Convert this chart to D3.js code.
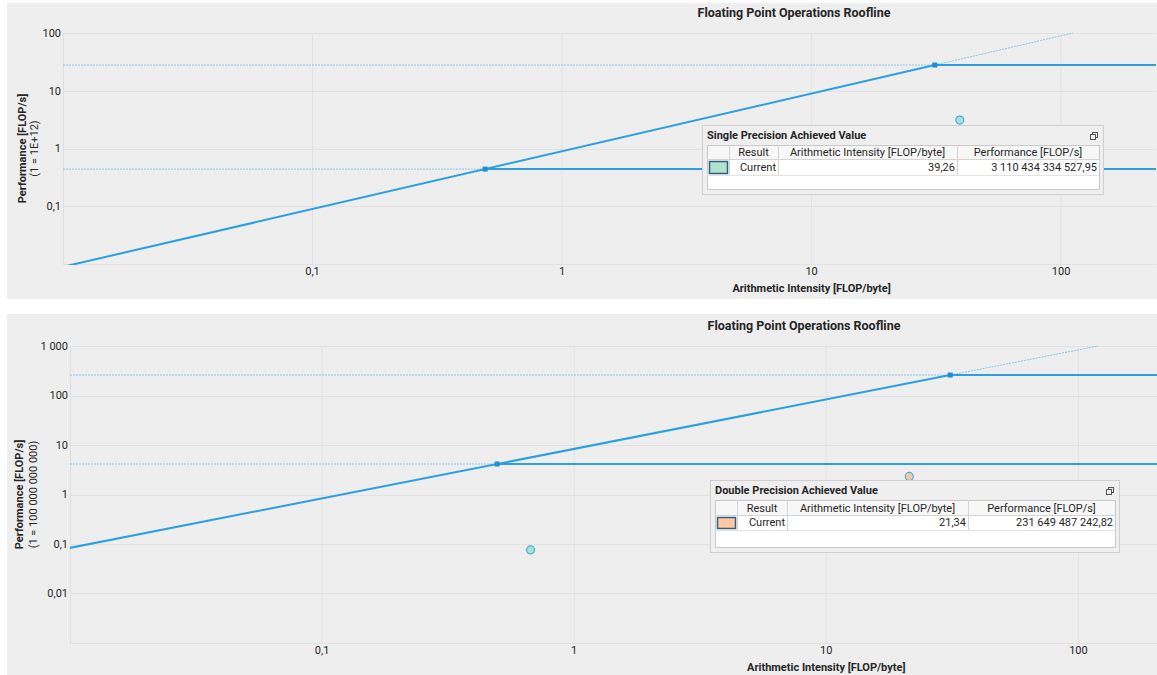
<!DOCTYPE html>
<html>
<head>
<meta charset="utf-8">
<script src="https://cdn.jsdelivr.net/npm/d3@7"></script>
<style>
  html, body { margin: 0; padding: 0; background: #ffffff; }
  svg { display: block; font-family: Roboto, "Noto Sans", sans-serif; }
</style>
</head>
<body>
<svg id="chart" width="1157" height="675"></svg>
<script>
// ---- Shared axis data ----
const xTicks = [0.1, 1, 10, 100];
const chartTitle = "Floating Point Operations Roofline";
const xAxisTitle = "Arithmetic Intensity [FLOP/byte]";
const tableHeaders = ["Result", "Arithmetic Intensity [FLOP/byte]", "Performance [FLOP/s]"];

// ---- Single precision roofline ----
const spDomainX = [0.01, 240];
const spDomainY = [0.01, 100];
const spYTicks = [0.1, 1, 10, 100];
const spUnit = 1e12;
const spUnitLabel = "(1 = 1E+12)";
const spBandwidth = 0.895;          // memory roof slope (in plotted units)
const spCeilings = [0.44, 27.9];    // compute roofs (in plotted units)
const spResults = ["Current"];
const spIntensity = [39.26];
const spPerformance = [3110434334527.95];
const spExtraIntensity = [];
const spExtraPerformance = [];

// ---- Double precision roofline ----
const dpDomainX = [0.01, 205];
const dpDomainY = [0.001, 1000];
const dpYTicks = [0.01, 0.1, 1, 10, 100, 1000];
const dpUnit = 1e11;
const dpUnitLabel = "(1 = 100 000 000 000)";
const dpBandwidth = 8.35;
const dpCeilings = [4.13, 259];
const dpResults = ["Current"];
const dpIntensity = [21.34];
const dpPerformance = [231649487242.82];
const dpExtraIntensity = [0.671];
const dpExtraPerformance = [7580000000];

// Number formatting with comma decimals and space grouping
const locale = d3.formatLocale({ decimal: ",", thousands: "\u00a0", grouping: [3], currency: ["", ""] });
const fmtTick = locale.format(",~g");
const fmtValue = locale.format(",.2f");

const svg = d3.select("#chart");
const roofColor = "#2b9fe0";
const dotColor = "#86c8ee";
const textColor = "#262626";

function drawPanel(cfg) {
  const g = svg.append("g");
  // panel background
  g.append("rect").attr("x", cfg.panel[0]).attr("y", cfg.panel[1])
    .attr("width", cfg.panel[2]).attr("height", cfg.panel[3]).attr("fill", "#eeeeee");

  const x = d3.scaleLog().domain(cfg.domainX).range([cfg.left, cfg.right]);
  const y = d3.scaleLog().domain(cfg.domainY).range([cfg.bottom, cfg.top]);

  const clipId = "clip-" + cfg.id;
  g.append("clipPath").attr("id", clipId).append("rect")
    .attr("x", cfg.left).attr("y", cfg.top - 1)
    .attr("width", cfg.right - cfg.left + 2).attr("height", cfg.bottom - cfg.top + 2);

  // gridlines
  const grid = g.append("g");
  grid.selectAll("line.gx").data(xTicks).join("line")
    .attr("x1", d => x(d)).attr("x2", d => x(d))
    .attr("y1", cfg.top).attr("y2", cfg.bottom)
    .attr("stroke", "#e2e2e2").attr("stroke-width", 1);
  const yGrid = [cfg.domainY[0]].concat(cfg.yTicks);
  grid.selectAll("line.gy").data(yGrid).join("line")
    .attr("x1", cfg.left).attr("x2", cfg.right)
    .attr("y1", d => Math.round(y(d)) + 0.5).attr("y2", d => Math.round(y(d)) + 0.5)
    .attr("stroke", "#e2e2e2").attr("stroke-width", 1);
  g.append("line").attr("x1", cfg.left + 0.5).attr("x2", cfg.left + 0.5)
    .attr("y1", cfg.top).attr("y2", cfg.bottom).attr("stroke", "#dedede");

  // y tick labels
  g.append("g").selectAll("text").data(cfg.yTicks).join("text")
    .attr("x", cfg.left - 2).attr("y", d => y(d)).attr("dy", "0.35em")
    .attr("text-anchor", "end").attr("font-size", 11).attr("fill", textColor)
    .text(d => fmtTick(d));

  // x tick labels
  g.append("g").selectAll("text").data(xTicks).join("text")
    .attr("x", d => x(d)).attr("y", cfg.bottom + 11).attr("text-anchor", "middle")
    .attr("font-size", 11).attr("fill", textColor)
    .text(d => fmtTick(d));

  // titles
  g.append("text").attr("x", cfg.titleX).attr("y", cfg.panel[1] + cfg.titleDy)
    .attr("text-anchor", "middle").attr("font-size", 12.5).attr("font-weight", 700)
    .attr("fill", textColor).text(chartTitle);
  g.append("text").attr("x", x(10)).attr("y", cfg.bottom + 28)
    .attr("text-anchor", "middle").attr("font-size", 11).attr("font-weight", 700)
    .attr("fill", textColor).text(xAxisTitle);
  const yMid = (cfg.top + cfg.bottom) / 2;
  g.append("text").attr("transform", `translate(${cfg.yLab1},${yMid}) rotate(-90)`)
    .attr("text-anchor", "middle").attr("font-size", 11).attr("font-weight", 700)
    .attr("fill", textColor).text("Performance [FLOP/s]");
  g.append("text").attr("transform", `translate(${cfg.yLab2},${yMid}) rotate(-90)`)
    .attr("text-anchor", "middle").attr("font-size", 11)
    .attr("fill", textColor).text(cfg.unitLabel);

  // roofline
  const plot = g.append("g").attr("clip-path", `url(#${clipId})`);
  const B = cfg.bandwidth;
  const knees = cfg.ceilings.map(c => ({ ai: c / B, perf: c }));
  const topKnee = knees[knees.length - 1];
  const line = d3.line().x(d => x(d[0])).y(d => y(d[1]));

  // dotted guides from the axis to each knee
  plot.selectAll("path.guide").data(knees).join("path")
    .attr("d", k => line([[cfg.domainX[0], k.perf], [k.ai, k.perf]]))
    .attr("fill", "none").attr("stroke", dotColor).attr("stroke-width", 1)
    .attr("stroke-dasharray", "2,1");
  // dotted continuation of the memory roof
  plot.append("path")
    .attr("d", line([[topKnee.ai, topKnee.perf], [cfg.domainY[1] / B, cfg.domainY[1]]]))
    .attr("fill", "none").attr("stroke", dotColor).attr("stroke-width", 1)
    .attr("stroke-dasharray", "2,1");
  // compute roofs
  plot.selectAll("path.roof").data(knees).join("path")
    .attr("d", k => line([[k.ai, k.perf], [cfg.domainX[1], k.perf]]))
    .attr("fill", "none").attr("stroke", roofColor).attr("stroke-width", 2);
  // memory roof
  plot.append("path")
    .attr("d", line([[cfg.domainX[0] * 0.98, B * cfg.domainX[0] * 0.98], [topKnee.ai, topKnee.perf]]))
    .attr("fill", "none").attr("stroke", roofColor).attr("stroke-width", 2);
  // knee markers
  plot.selectAll("rect.knee").data(knees).join("rect")
    .attr("x", k => x(k.ai) - 2.5).attr("y", k => y(k.perf) - 2.5)
    .attr("width", 5).attr("height", 5).attr("fill", "#1d8fd6");

  // extra measured points
  const extras = cfg.extraIntensity.map((ai, i) => ({ ai, perf: cfg.extraPerformance[i] / cfg.unit }));
  plot.selectAll("circle.extra").data(extras).join("circle")
    .attr("cx", d => x(d.ai)).attr("cy", d => y(d.perf)).attr("r", 4)
    .attr("fill", "#a9e0d6").attr("stroke", "#45aee0").attr("stroke-width", 1.2);

  // achieved values
  const results = cfg.results.map((r, i) => ({ name: r, ai: cfg.intensity[i], perf: cfg.performance[i] }));
  plot.selectAll("circle.res").data(results).join("circle")
    .attr("cx", d => x(d.ai)).attr("cy", d => y(d.perf / cfg.unit)).attr("r", 4)
    .attr("fill", cfg.pointFill).attr("stroke", "#45aee0").attr("stroke-width", 1.2);

  // achieved value table
  const L = cfg.legend;
  const lg = g.append("g");
  lg.append("rect").attr("x", L.x + 1).attr("y", L.y + 1).attr("width", L.w).attr("height", L.h)
    .attr("fill", "#dcdcdc");
  lg.append("rect").attr("x", L.x + 0.5).attr("y", L.y + 0.5).attr("width", L.w).attr("height", L.h)
    .attr("fill", "#efefef").attr("stroke", "#cfcfcf");
  lg.append("text").attr("x", L.x + 5).attr("y", L.y + 14).attr("font-size", 11)
    .attr("font-weight", 700).attr("fill", textColor).text(cfg.legendTitle);
  // restore icon
  const ix = L.x + L.w - 13, iy = L.y + 7;
  lg.append("rect").attr("x", ix + 2.5).attr("y", iy + 0.5).attr("width", 5).attr("height", 5)
    .attr("fill", "none").attr("stroke", "#555");
  lg.append("rect").attr("x", ix + 0.5).attr("y", iy + 2.5).attr("width", 5).attr("height", 5)
    .attr("fill", "#efefef").attr("stroke", "#555");

  const tx = L.x + 5, ty = L.y + 20, tw = L.w - 9, th = L.h - 25;
  const cols = [tx, tx + L.c[0], tx + L.c[1], tx + L.c[2], tx + tw];
  lg.append("rect").attr("x", tx + 0.5).attr("y", ty + 0.5).attr("width", tw).attr("height", th)
    .attr("fill", "#ffffff").attr("stroke", "#c9c9c9");
  lg.append("rect").attr("x", tx + 1).attr("y", ty + 1).attr("width", tw - 1).attr("height", L.hh - 1)
    .attr("fill", "#f7f7f7");
  lg.append("line").attr("x1", tx).attr("x2", tx + tw)
    .attr("y1", ty + L.hh + 0.5).attr("y2", ty + L.hh + 0.5).attr("stroke", "#d4d4d4");
  lg.append("line").attr("x1", tx).attr("x2", tx + tw)
    .attr("y1", ty + L.hh + L.rh + 0.5).attr("y2", ty + L.hh + L.rh + 0.5).attr("stroke", "#e2e2e2");
  lg.selectAll("line.sep").data(cols.slice(1, 4)).join("line")
    .attr("x1", d => d + 0.5).attr("x2", d => d + 0.5)
    .attr("y1", ty).attr("y2", ty + L.hh + L.rh).attr("stroke", "#d4d4d4");
  lg.selectAll("text.h").data(tableHeaders).join("text")
    .attr("x", (d, i) => (cols[i + 1] + cols[i + 2]) / 2).attr("y", ty + L.hh - 3.5)
    .attr("text-anchor", "middle").attr("font-size", 11).attr("fill", textColor).text(d => d);
  const rowY = ty + L.hh + L.rh - 4;
  results.forEach((r, i) => {
    lg.append("rect").attr("x", tx + 2.5).attr("y", ty + L.hh + 2.5).attr("width", cols[1] - tx - 4)
      .attr("height", L.rh - 4).attr("fill", cfg.swatchFill).attr("stroke", "#2f5f7f").attr("stroke-width", 1.5);
    const cells = [r.name, fmtValue(r.ai), fmtValue(r.perf)];
    lg.selectAll(null).data(cells).join("text")
      .attr("x", (d, j) => cols[j + 2] - 2).attr("y", rowY + i * L.rh)
      .attr("text-anchor", "end").attr("font-size", 11).attr("fill", textColor).text(d => d);
  });
}

drawPanel({
  id: "sp", panel: [7, 3, 1150, 296],
  left: 63, right: 1156, top: 33, bottom: 264,
  domainX: spDomainX, domainY: spDomainY, yTicks: spYTicks,
  unit: spUnit, unitLabel: spUnitLabel, yLab1: 26, yLab2: 38, titleX: 794, titleDy: 14,
  bandwidth: spBandwidth, ceilings: spCeilings,
  results: spResults, intensity: spIntensity, performance: spPerformance,
  extraIntensity: spExtraIntensity, extraPerformance: spExtraPerformance,
  pointFill: "#a9e0d6", swatchFill: "#b0e2cc",
  legendTitle: "Single Precision Achieved Value",
  legend: { x: 702, y: 125, w: 401, h: 69, c: [22, 71, 250], hh: 14, rh: 16 }
});

drawPanel({
  id: "dp", panel: [7, 314, 1150, 361],
  left: 70, right: 1157, top: 346, bottom: 643,
  domainX: dpDomainX, domainY: dpDomainY, yTicks: dpYTicks,
  unit: dpUnit, unitLabel: dpUnitLabel, yLab1: 23, yLab2: 37, titleX: 804, titleDy: 16,
  bandwidth: dpBandwidth, ceilings: dpCeilings,
  results: dpResults, intensity: dpIntensity, performance: dpPerformance,
  extraIntensity: dpExtraIntensity, extraPerformance: dpExtraPerformance,
  pointFill: "#f8c9a2", swatchFill: "#fcc9a4",
  legendTitle: "Double Precision Achieved Value",
  legend: { x: 710, y: 480, w: 409, h: 72, c: [22, 72, 253], hh: 15, rh: 15 }
});
</script>
</body>
</html>
